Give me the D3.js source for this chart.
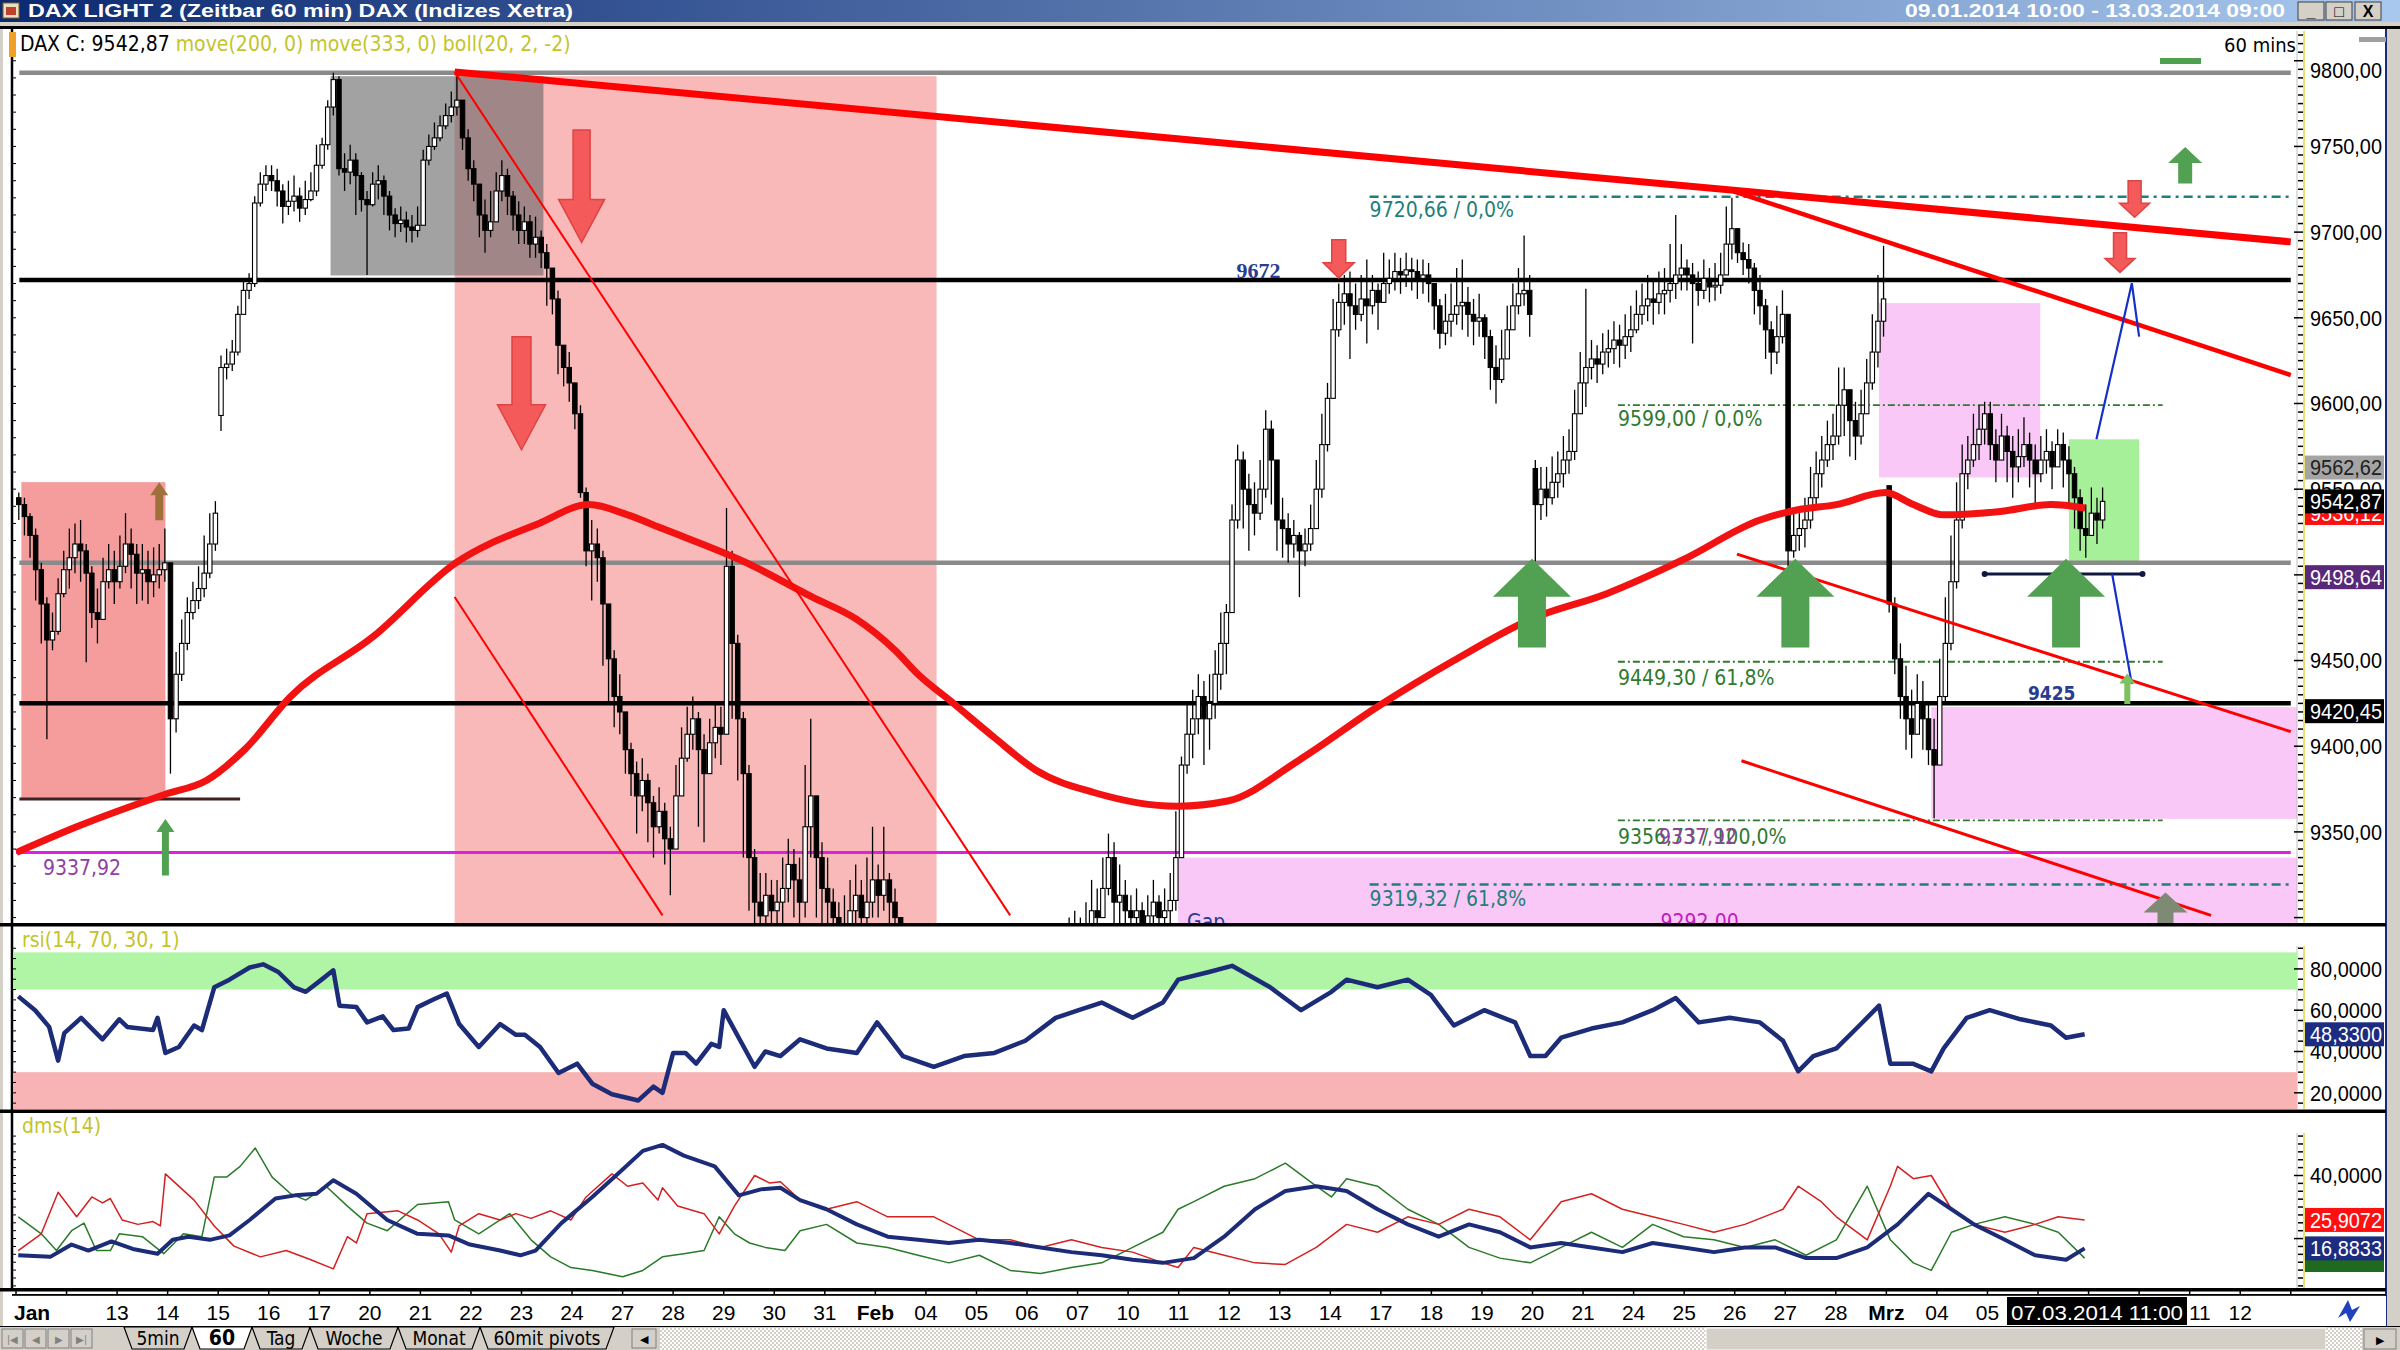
<!DOCTYPE html>
<html><head><meta charset="utf-8">
<script src="https://cdn.jsdelivr.net/npm/d3@7"></script>
<style>
html,body{margin:0;padding:0;background:#d4d0c8;overflow:hidden}
svg{display:block}
</style></head><body>
<svg id="c" width="2400" height="1350"></svg>
<script>
// ---------------- DATA ----------------
const dayLabels = ["Jan","10","13","14","15","16","17","20","21","22","23","24","27","28","29","30","31",
 "Feb","04","05","06","07","10","11","12","13","14","17","18","19","20","21","24","25","26","27","28",
 "Mrz","04","05","06","07","10","11","12","13"];
const barsPerDay = 9;
const firstOpen = 9545;
const closes = [
 9541,9534,9523,9503,9483,9462,9467,9489,9503,
 9510,9518,9514,9501,9478,9474,9496,9503,9496,
 9505,9518,9512,9501,9503,9496,9500,9503,9507,
 9416,9442,9460,9478,9485,9492,9501,9518,9536,
 9621,9623,9630,9652,9666,9670,9717,9728,9733,
 9730,9724,9715,9718,9721,9714,9719,9724,9739,
 9751,9773,9789,9737,9735,9742,9733,9719,9716,
 9728,9730,9721,9710,9705,9707,9703,9701,9704,
 9742,9750,9755,9762,9768,9773,9777,9755,9737,
 9728,9710,9701,9706,9724,9733,9721,9710,9701,
 9706,9693,9697,9688,9679,9661,9634,9621,9612,
 9594,9548,9514,9518,9510,9483,9451,9429,9420,
 9398,9384,9371,9380,9367,9353,9362,9346,9340,
 9371,9393,9407,9416,9398,9384,9402,9411,9407,
 9505,9460,9416,9384,9335,9309,9301,9313,9304,
 9309,9317,9331,9322,9309,9353,9371,9335,9317,
 9309,9300,9291,9295,9304,9313,9300,9309,9322,
 9313,9322,9309,9300,9282,9264,9246,9219,9201,
 9192,9175,9166,9157,9175,9183,9170,9179,9183,
 9192,9210,9219,9206,9197,9210,9219,9228,9224,
 9237,9246,9255,9264,9273,9264,9277,9286,9291,
 9286,9295,9304,9300,9317,9335,9309,9313,9304,
 9300,9304,9295,9301,9309,9300,9304,9310,9335,
 9389,9407,9416,9429,9416,9425,9442,9460,9478,
 9532,9567,9550,9541,9536,9550,9585,9567,9532,
 9527,9518,9523,9514,9518,9527,9550,9576,9603,
 9643,9659,9664,9657,9652,9661,9657,9666,9659,
 9670,9673,9677,9675,9678,9677,9673,9675,9670,
 9657,9641,9648,9652,9657,9659,9652,9648,9650,
 9639,9621,9614,9626,9643,9657,9664,9666,9652,
 9541,9550,9545,9554,9559,9567,9572,9594,9612,
 9621,9626,9623,9630,9632,9637,9634,9639,9643,
 9652,9657,9661,9659,9664,9666,9670,9675,9679,
 9675,9670,9666,9673,9668,9669,9675,9693,9702,
 9688,9684,9679,9666,9657,9643,9630,9639,9652,
 9514,9523,9527,9532,9545,9559,9567,9576,9581,
 9599,9608,9590,9581,9594,9612,9630,9648,9661,
 9483,9451,9429,9416,9407,9425,9416,9398,9389,
 9429,9460,9496,9532,9559,9567,9576,9585,9594,
 9576,9567,9581,9572,9563,9569,9576,9567,9559,
 9567,9572,9563,9576,9567,9559,9545,9527,9523,
 9536,9532,9542.87];
const highs = [
 9548,9545,9536,9527,9507,9487,9478,9498,9514,
 9527,9530,9532,9518,9505,9492,9510,9518,9514,
 9523,9536,9527,9518,9518,9514,9516,9518,9527,
 9438,9455,9474,9487,9496,9505,9523,9536,9543,
 9628,9632,9637,9657,9673,9676,9721,9735,9739,
 9739,9737,9728,9730,9733,9726,9730,9735,9751,
 9755,9777,9793,9791,9746,9751,9746,9735,9724,
 9735,9739,9733,9724,9714,9715,9712,9710,9715,
 9748,9757,9764,9768,9775,9782,9791,9773,9760,
 9742,9728,9719,9724,9735,9742,9737,9724,9718,
 9715,9710,9709,9701,9693,9675,9666,9634,9630,
 9612,9599,9551,9532,9527,9514,9483,9456,9442,
 9416,9402,9391,9393,9384,9371,9376,9367,9353,
 9389,9411,9423,9429,9420,9407,9416,9425,9423,
 9539,9514,9465,9420,9389,9340,9326,9326,9322,
 9322,9335,9346,9340,9335,9389,9416,9362,9344,
 9335,9317,9309,9313,9322,9331,9322,9335,9353,
 9331,9353,9326,9317,9300,9282,9264,9242,9219,
 9210,9197,9183,9175,9188,9197,9188,9192,9197,
 9206,9224,9233,9219,9210,9224,9233,9242,9237,
 9250,9259,9268,9277,9286,9277,9291,9300,9304,
 9300,9309,9322,9317,9335,9349,9344,9331,9322,
 9313,9317,9309,9313,9322,9313,9317,9326,9362,
 9394,9425,9433,9442,9438,9442,9456,9478,9483,
 9541,9576,9572,9559,9554,9567,9596,9590,9550,
 9545,9536,9532,9525,9527,9541,9567,9594,9612,
 9661,9670,9675,9677,9670,9675,9684,9675,9670,
 9688,9684,9688,9685,9688,9685,9684,9684,9682,
 9670,9661,9664,9670,9679,9684,9668,9661,9664,
 9652,9643,9634,9643,9657,9670,9679,9698,9675,
 9567,9563,9563,9569,9572,9581,9585,9608,9630,
 9667,9637,9634,9641,9643,9648,9646,9652,9657,
 9666,9670,9675,9673,9677,9679,9693,9710,9693,
 9684,9682,9677,9684,9679,9682,9688,9715,9720,
 9702,9694,9693,9682,9675,9661,9648,9657,9666,
 9651,9536,9536,9545,9563,9572,9581,9590,9594,
 9621,9621,9605,9601,9608,9626,9652,9675,9692,
 9550,9487,9460,9447,9433,9442,9438,9425,9416,
 9451,9487,9523,9554,9576,9581,9594,9599,9601,
 9601,9585,9594,9587,9581,9585,9592,9583,9576,
 9581,9585,9578,9585,9583,9575,9563,9550,9541,
 9551,9545,9551];
const lows = [
 9532,9523,9510,9485,9460,9404,9456,9465,9487,
 9492,9501,9496,9449,9469,9460,9483,9492,9483,
 9492,9501,9492,9483,9485,9483,9487,9492,9496,
 9384,9408,9438,9456,9474,9480,9487,9498,9514,
 9584,9614,9619,9628,9657,9661,9668,9715,9724,
 9724,9715,9705,9710,9712,9706,9710,9718,9721,
 9737,9748,9768,9733,9724,9728,9710,9712,9675,
 9715,9719,9710,9701,9697,9700,9694,9694,9697,
 9728,9739,9748,9753,9760,9764,9768,9748,9730,
 9718,9697,9688,9697,9710,9718,9710,9701,9693,
 9693,9685,9685,9679,9657,9652,9617,9610,9601,
 9585,9545,9505,9485,9496,9447,9425,9411,9407,
 9384,9371,9349,9362,9344,9335,9349,9331,9313,
 9358,9376,9391,9398,9353,9344,9384,9393,9389,
 9407,9416,9380,9335,9304,9282,9282,9295,9286,
 9282,9291,9309,9300,9291,9300,9335,9300,9291,
 9295,9282,9273,9277,9286,9291,9277,9291,9300,
 9300,9304,9291,9277,9259,9242,9219,9197,9183,
 9179,9161,9148,9139,9157,9166,9157,9166,9170,
 9179,9194,9206,9192,9183,9197,9206,9215,9210,
 9219,9233,9242,9250,9259,9255,9264,9273,9277,
 9273,9282,9291,9286,9300,9313,9295,9295,9291,
 9286,9291,9282,9289,9295,9286,9291,9295,9304,
 9335,9384,9393,9407,9389,9398,9416,9433,9442,
 9478,9527,9527,9514,9523,9532,9545,9541,9514,
 9510,9507,9510,9487,9505,9514,9527,9545,9572,
 9612,9639,9646,9626,9643,9648,9635,9652,9643,
 9661,9664,9666,9664,9668,9666,9661,9664,9659,
 9643,9632,9634,9639,9646,9643,9639,9634,9639,
 9626,9608,9600,9612,9626,9643,9652,9657,9639,
 9508,9532,9534,9541,9545,9551,9559,9567,9596,
 9598,9614,9612,9617,9621,9623,9621,9626,9630,
 9641,9646,9648,9646,9652,9652,9659,9661,9666,
 9666,9635,9657,9661,9659,9660,9664,9677,9684,
 9682,9675,9670,9652,9646,9626,9617,9623,9635,
 9505,9510,9514,9516,9527,9541,9551,9563,9567,
 9576,9581,9569,9567,9576,9594,9608,9621,9639,
 9478,9442,9416,9398,9393,9407,9398,9389,9358,
 9416,9425,9456,9492,9527,9550,9563,9567,9576,
 9567,9554,9567,9554,9545,9554,9563,9551,9541,
 9554,9559,9550,9563,9551,9541,9527,9514,9510,
 9523,9518,9527];
const gapOpens = [[36,9593],[270,9562],[333,9552]];

// moving average (red) read at bar positions
const maBar = [0.1,10.8,26.6,33.9,40.7,48.9,63.6,78.3,93.1,102,108.9,115.1,130.1,141.8,149.7,156.5,160.6,166.9,174.2,181.6,191.9,206.7,215.7,228.5,242.4,256,269.6,283.2,296.9,310.5,317.3,324.1,332.8,337.8,343.2,353.3,362.3,368.4];
const maVal = [9338,9353,9372,9380,9398,9429,9464,9507,9530,9541,9535,9527,9507,9487,9474,9456,9442,9425,9405,9386,9373,9365,9368,9392,9423,9450,9474,9489,9509,9532,9538,9541,9548,9541,9535,9537,9541,9539];

// RSI(14)
const rsiBar = [0.4,3.4,5.9,7.5,8.6,11.6,15.4,18.4,19.8,24.4,25.2,26.6,29,31.7,33.1,35.3,38,41.6,44,46.7,49.5,51.6,54.4,56.5,57.6,60.6,62.5,65.3,67.2,69.9,71.5,74.3,76.7,78.9,82.4,86.2,89,90.6,93.3,96.6,99.9,102.6,106.1,110.8,113.5,115.1,117,119.2,121.1,123.8,125.2,126,131.5,133.4,136.1,139.6,144.3,149.7,153.3,157.9,163.4,168.8,174.2,179.7,185.1,189.2,193.3,198.8,204.2,206.9,212.4,216.5,223.3,228.8,234.2,236.9,242.4,247.8,251.9,256,261.4,266.9,269.6,272.3,275.1,280.5,286,291.4,295.5,299.6,305.1,310.5,314.6,317.3,320,324.1,328.2,331.7,333.7,337.7,341,343.2,347.3,351.4,356.9,362.3,365,368.3];
const rsiVal = [66.7,60,51.9,35.6,48.9,56.3,45.9,55.6,51.9,50.4,56.3,39.3,42.2,52.6,50.4,71.1,74.8,80.7,82.2,78.5,71.1,68.9,74.8,79.3,62.2,61.5,54.1,57,50.4,51.1,61.5,65.2,68.1,53.3,42.2,53.3,48.1,48.1,42.2,29.6,34.1,24.4,19.3,16.3,23,20,39.3,39.3,34.1,43.7,42.2,60,32.6,40,37.8,45.9,41.5,39.3,54.1,37.8,32.6,37.8,39.3,45.2,56.3,60,63.7,56.3,63.7,74.8,78.5,81.5,71.1,60,68.9,74.8,71.1,74.8,67.4,52.6,60,54.1,37.8,37.8,46.7,51.1,54.1,60,65.9,54.1,56.3,54.1,45.2,30.4,37.8,41.5,52.6,62.2,34.1,34.1,30.4,41.5,56.3,60,55.6,52.6,46.7,48.33];

// DMS(14): ADX (blue), red DI, green DI
const adxBar = [0.4,6.1,9.9,12.9,17,20.8,25.2,27.9,30.7,34.5,38,41.6,46.2,49.7,53.5,56.5,60.6,66.1,71.5,77,80.8,86.2,89.8,92.5,97.1,102.6,108,111.6,115.1,118.9,124.4,128.7,132.6,136.1,139.6,144.3,149.7,155.2,160.6,166.1,171.5,177,182.4,187.9,193.3,198.8,204.2,209.7,215.1,220.6,226,231.5,236.9,242.4,247.8,253.3,258.7,264.2,269.6,275.1,280.5,286,291.4,296.9,302.3,307.8,313.2,318.7,324.1,329.6,335,340.5,344.6,348.6,354.1,359.5,365,368.3];
const adxVal = [14.7,14.2,18.1,16.2,19.1,16.7,15.2,19.6,20.6,19.6,21,25.9,32.7,33.7,34.2,38.5,34.2,25.9,21.5,21,18.1,16.2,14.7,16.2,24.9,33.2,41.9,47.8,49.7,46.3,42.9,33.7,35.6,36.1,32.2,29.3,24.5,20.6,19.6,18.6,19.6,18.6,17.2,15.7,14.7,13.3,12.3,13.8,20.6,29.3,35.1,36.6,35.1,29.3,24.5,20.6,24.5,22,17.2,18.6,17.2,15.7,18.6,17.2,15.7,17.2,17.2,13.8,13.8,17.2,24.5,34.2,29.3,24.5,19.6,14.7,13.3,16.8833];
const redBar = [0.4,4.5,7.5,10.8,13.5,15.4,16.8,18.9,21.7,24.4,25.7,26.6,31.7,35.3,38.8,43.5,48.1,52.5,56.5,59,60.6,62.5,68,71.5,75.3,77.5,78.9,82.4,86.2,89,91.7,95.2,98.8,101.5,106.1,108.9,111.6,114.3,115.1,117.8,122.5,125.2,127.9,131.5,134.2,136.1,139.6,144.3,149.7,155.2,163.4,171.5,177,182.4,187.9,193.3,198.8,204.2,206.9,209.7,215.1,220.6,226,231.5,236.9,242.4,247.8,253.3,258.7,264.2,269.6,275.1,280.5,286,291.4,296.9,302.3,307.8,314.6,317.3,321.4,324.1,329.6,333.7,335,337.8,341,344.6,348.6,354.1,359.5,363.6,368.3];
const redVal = [16.2,21.5,34.7,26.9,33.2,31.3,32.7,25.9,24.5,25.4,24,40.5,32.2,24,17.6,14.2,16.2,13.3,10.4,20.6,18.6,27.9,28.8,25.9,21.5,15.7,24,27.9,25.9,27.9,26.4,28.8,25.9,33.2,40.5,36.6,37.6,32.2,36.1,30.3,27.9,21.5,30.3,40,37.6,38,32.2,29.3,31.7,26.9,26.9,19.6,19.6,17.2,19.6,17.2,15.7,12.3,10.8,17.2,14.7,12.3,11.8,17.2,24.5,22,26.9,24.5,29.3,26.9,19.6,31.7,34.2,29.3,26.9,24.5,22,24.5,29.3,36.6,31.7,26.9,19.6,36.6,42.9,39,40,29.3,24.5,22,24.5,26.9,25.9072];
const grnBar = [0.4,4.5,7.2,9.9,12.1,14.3,16.8,18.4,22.5,26.3,29.8,33.1,35.3,37.5,39.9,42.6,45.6,48.9,51.6,55.2,59,62.5,66.1,71.5,77,78.1,82.4,87.9,91.7,95.2,98.8,102.6,108,111.6,115.1,118.9,122.5,125.2,127.9,130.6,133.4,136.9,139.6,144.3,149.7,155.2,160.6,166.1,171.5,177,182.4,187.9,193.3,198.8,204.2,206.9,209.7,215.1,220.6,226,231.5,234.2,236.9,242.4,247.8,253.3,258.7,264.2,269.6,275.1,280.5,286,291.4,296.9,302.3,307.8,313.2,318.7,324.1,329.6,333.7,337.8,341,344.6,348.6,354.1,359.5,363.6,368.3];
const grnVal = [26.9,21.5,16.2,22.5,24.9,16.2,16.2,21.5,20.6,15.2,21.5,20.6,39.5,39.5,42.9,48.7,39.5,34.2,32.2,36.6,30.3,24.9,22.5,30.8,31.7,25.9,21.5,27.9,19.6,14.2,10.8,9.9,7.9,9.9,14.2,15.2,16.2,26.9,21.5,18.6,17.2,16.2,22.5,24.5,18.6,17.2,14.7,12.3,14.7,9.9,8.9,10.8,12.3,17.2,22,29.3,31.7,36.6,39,43.9,36.6,33.2,39,36.6,29.3,24.5,17.2,13.8,12.3,17.2,22,17.2,24.5,20.6,19.6,17.2,19.6,14.7,19.6,36.6,19.6,12.3,9.9,22,24.5,26.9,24.5,22,13.8];

// horizontal levels and fibonacci levels
const supportLevels = [9793, 9672, 9507, 9425];
const fibTeal = [9720.66, 9319.32];
const fibGreen = [9599.00, 9449.30, 9356.73];
const priceTicks = [9350,9400,9450,9550,9600,9650,9700,9750,9800];
const rsiTicks = [20,40,60,80];
const dmsTicks = [40];

// ---------------- LAYOUT ----------------
const svg = d3.select("#c");
const FN = "'Liberation Sans Narrow','Arial Narrow','DejaVu Sans Condensed',sans-serif";
const FR = "'Liberation Sans',Arial,sans-serif";
const PL = 12, PR = 2297;
const MT = 29, MB = 923, RT = 926, RB = 1109, DT = 1113, DB = 1288;
const xS = d3.scaleLinear().domain([0, 405]).range([16, 16 + 405 * 5.6167]);
const yP = d3.scaleLinear().domain([9672, 9337.92]).range([280.1, 852.6]);
const yR = d3.scaleLinear().domain([80, 20]).range([968.9, 1092.8]);
const yD = d3.scaleLinear().domain([40, 16.8833]).range([1175.5, 1248.4]);
const fmt = v => d3.format(".2f")(v).replace(".", ",");
const fmt4 = v => d3.format(".4f")(v).replace(".", ",");

const defs = svg.append("defs");
const lg = defs.append("linearGradient").attr("id", "tb").attr("x1", 0).attr("x2", 1);
lg.append("stop").attr("offset", 0).attr("stop-color", "#0c2a72");
lg.append("stop").attr("offset", 1).attr("stop-color", "#a8c8ee");
defs.append("clipPath").attr("id", "cm").append("rect").attr("x", PL + 1).attr("y", MT + 1).attr("width", PR - PL - 1).attr("height", MB - MT - 1);
defs.append("clipPath").attr("id", "cr").append("rect").attr("x", PL + 1).attr("y", RT).attr("width", PR - PL - 1).attr("height", RB - RT);
defs.append("clipPath").attr("id", "cd").append("rect").attr("x", PL + 1).attr("y", DT).attr("width", PR - PL - 1).attr("height", DB - DT);
const pat = defs.append("pattern").attr("id", "dots").attr("width", 4).attr("height", 4).attr("patternUnits", "userSpaceOnUse");
pat.append("rect").attr("width", 4).attr("height", 4).attr("fill", "#d4d0c8");
pat.append("rect").attr("width", 2).attr("height", 2).attr("fill", "#ffffff");
pat.append("rect").attr("x", 2).attr("y", 2).attr("width", 2).attr("height", 2).attr("fill", "#ffffff");

// background
svg.append("rect").attr("width", 2400).attr("height", 1350).attr("fill", "#d4d0c8");
// title bar
svg.append("rect").attr("x", 0).attr("y", 0).attr("width", 2400).attr("height", 22).attr("fill", "url(#tb)");
svg.append("rect").attr("x", 3).attr("y", 3).attr("width", 16).attr("height", 15).attr("fill", "#e8e0c0").attr("stroke", "#806020");
svg.append("rect").attr("x", 6).attr("y", 7).attr("width", 10).attr("height", 8).attr("fill", "#c04030");
svg.append("text").attr("x", 28).attr("y", 17).attr("fill", "#fff").attr("font-family", FR).attr("font-weight", "bold")
  .attr("font-size", 18).attr("textLength", 545).attr("lengthAdjust", "spacingAndGlyphs")
  .text("DAX LIGHT 2 (Zeitbar 60 min)  DAX (Indizes Xetra)");
svg.append("text").attr("x", 2285).attr("y", 17).attr("text-anchor", "end").attr("fill", "#fff").attr("font-family", FR).attr("font-weight", "bold")
  .attr("font-size", 18).attr("textLength", 380).attr("lengthAdjust", "spacingAndGlyphs")
  .text("09.01.2014 10:00 - 13.03.2014 09:00");
[[2298, "_"], [2326, "□"], [2355, "X"]].forEach(([x, s]) => {
  svg.append("rect").attr("x", x).attr("y", 2).attr("width", 26).attr("height", 18).attr("fill", "#d4d0c8").attr("stroke", "#404040");
  svg.append("text").attr("x", x + 13).attr("y", 17).attr("text-anchor", "middle").attr("font-family", FR).attr("font-weight", "bold").attr("font-size", 16).text(s);
});
svg.append("rect").attr("x", 0).attr("y", 26).attr("width", 2400).attr("height", 3).attr("fill", "#000");

// white chart area
svg.append("rect").attr("x", 3).attr("y", 29).attr("width", 2383).attr("height", 1297).attr("fill", "#fff");
svg.append("rect").attr("x", 2386).attr("y", 29).attr("width", 14).attr("height", 1297).attr("fill", "#d4d0c8");
svg.append("line").attr("x1", 2386).attr("x2", 2386).attr("y1", 29).attr("y2", 1326).attr("stroke", "#1a2a80").attr("stroke-width", 2);

// ---------------- MAIN PANEL ----------------
const gm = svg.append("g").attr("clip-path", "url(#cm)");
const zone = (b0, b1, p0, p1, fill, op) => gm.append("rect")
  .attr("x", xS(b0)).attr("width", xS(b1) - xS(b0))
  .attr("y", yP(p0)).attr("height", yP(p1) - yP(p0)).attr("fill", fill).attr("opacity", op || 1);
zone(0.95, 26.6, 9554.1, 9369.2, "#f59c9c");
zone(78.1, 163.9, 9791, 9200, "#f9b9b9");
zone(56, 93.9, 9791, 9674.7, "#646464", 0.6);
zone(331.7, 360.4, 9658.6, 9556.8, "#f9c8f7");
zone(341, 406.5, 9422.8, 9357.6, "#f9c8f7");
zone(206.9, 406.5, 9335, 9200, "#f9c8f7");
zone(365.5, 378, 9579.1, 9507.6, "#a6f09a");

const hline = (p, b0, b1, col, w) => gm.append("line").attr("x1", xS(b0)).attr("x2", xS(b1))
  .attr("y1", yP(p)).attr("y2", yP(p)).attr("stroke", col).attr("stroke-width", w);
hline(supportLevels[0], 0.6, 405, "#8a8a8a", 4.5);
hline(supportLevels[2], 0.6, 405, "#8a8a8a", 4.5);
hline(supportLevels[1], 0.6, 405, "#000", 4.5);
hline(supportLevels[3], 0.6, 405, "#000", 4.5);
hline(9337.92, 0, 405, "#e020e0", 3);
hline(9369.2, 0.6, 39.9, "#402020", 3);

fibTeal.forEach(p => gm.append("line").attr("x1", xS(241)).attr("x2", xS(405)).attr("y1", yP(p)).attr("y2", yP(p))
  .attr("stroke", "#1f7f7a").attr("stroke-width", 2.5).attr("stroke-dasharray", "9,5,3,5"));
fibGreen.forEach(p => gm.append("line").attr("x1", xS(285.2)).attr("x2", xS(382.2)).attr("y1", yP(p)).attr("y2", yP(p))
  .attr("stroke", "#2f7a2f").attr("stroke-width", 1.8).attr("stroke-dasharray", "7,3,2,3"));

// candles
const candles = closes.map((c, i) => {
  let o = i === 0 ? firstOpen : closes[i - 1];
  const g = gapOpens.find(d => d[0] === i);
  if (g) o = g[1];
  return {i, o, c, h: Math.max(highs[i], o, c), l: Math.min(lows[i], o, c)};
});
const cg = gm.append("g");
cg.selectAll("line.w").data(candles).join("line")
  .attr("x1", d => xS(d.i + 0.5)).attr("x2", d => xS(d.i + 0.5))
  .attr("y1", d => yP(d.h)).attr("y2", d => yP(d.l)).attr("stroke", "#000").attr("stroke-width", 1.3);
cg.selectAll("rect.b").data(candles).join("rect")
  .attr("x", d => xS(d.i + 0.5) - 2.2).attr("width", 4.4)
  .attr("y", d => yP(Math.max(d.o, d.c))).attr("height", d => Math.max(1.2, Math.abs(yP(d.o) - yP(d.c))))
  .attr("fill", d => d.c >= d.o ? "#fff" : "#000").attr("stroke", "#000").attr("stroke-width", 1.1);

gm.append("path").datum(maBar.map((b, k) => [b, maVal[k]]))
  .attr("d", d3.line().x(d => xS(d[0])).y(d => yP(d[1])).curve(d3.curveMonotoneX))
  .attr("fill", "none").attr("stroke", "#f21212").attr("stroke-width", 7);

const trendLines = [
  [78.1, 9793.5, 405, 9694.3, 7],
  [78.1, 9793.5, 177, 9301.3, 2],
  [78.1, 9487.1, 115.1, 9301.3, 2],
  [305.8, 9723.8, 405, 9616.6, 4.5],
  [306.4, 9512.1, 405, 9408.5, 3],
  [307.2, 9391.5, 390.8, 9301.3, 3]];
trendLines.forEach(t => gm.append("line").attr("x1", xS(t[0])).attr("y1", yP(t[1])).attr("x2", xS(t[2])).attr("y2", yP(t[3]))
  .attr("stroke", "#ff0000").attr("stroke-width", t[4]));

gm.append("line").attr("x1", xS(350.5)).attr("x2", xS(378.6)).attr("y1", yP(9500.5)).attr("y2", yP(9500.5))
  .attr("stroke", "#101840").attr("stroke-width", 3);
[350.5, 378.6].forEach(b => gm.append("circle").attr("cx", xS(b)).attr("cy", yP(9500.5)).attr("r", 3).attr("fill", "#101840"));
const proj = [[370.4, 9579.1], [376.7, 9670.2], [378.0, 9639]];
gm.append("path").datum(proj).attr("d", d3.line().x(d => xS(d[0])).y(d => yP(d[1])))
  .attr("fill", "none").attr("stroke", "#1530c8").attr("stroke-width", 2.2);
gm.append("line").attr("x1", xS(373.2)).attr("y1", yP(9500.5)).attr("x2", xS(376.7)).attr("y2", yP(9436.2))
  .attr("stroke", "#1530c8").attr("stroke-width", 2.2);

function upArrow(b, tip, tail, hw, hh, sw, fill) {
  const cx = xS(b), yt = yP(tip), yb = yP(tail);
  const pts = [[cx, yt], [cx + hw / 2, yt + hh], [cx + sw / 2, yt + hh], [cx + sw / 2, yb], [cx - sw / 2, yb], [cx - sw / 2, yt + hh], [cx - hw / 2, yt + hh]];
  gm.append("polygon").attr("points", pts.map(p => p.join(",")).join(" ")).attr("fill", fill);
}
function downArrow(b, tail, tip, hw, hh, sw, fill, stroke) {
  const cx = xS(b), yt = yP(tail), yb = yP(tip);
  const pts = [[cx - sw / 2, yt], [cx + sw / 2, yt], [cx + sw / 2, yb - hh], [cx + hw / 2, yb - hh], [cx, yb], [cx - hw / 2, yb - hh], [cx - sw / 2, yb - hh]];
  gm.append("polygon").attr("points", pts.map(p => p.join(",")).join(" ")).attr("fill", fill).attr("stroke", stroke).attr("stroke-width", 1.5);
}
const greenBig = [269.9, 316.8, 365];
greenBig.forEach(b => upArrow(b, 9509.4, 9457.6, 78, 38, 28, "#52a052"));
upArrow(26.6, 9357.6, 9324.6, 18, 13, 7, "#52a052");
upArrow(25.5, 9554, 9531.8, 18, 13, 8, "#a0703a");
upArrow(386.2, 9749.7, 9728.3, 34, 16, 14, "#52a052");
upArrow(382.7, 9314.7, 9296.8, 44, 20, 16, "#7f8a74");
upArrow(375.9, 9442.4, 9424.6, 16, 10, 6, "#7cc060");
downArrow(100.7, 9759.6, 9694, 46, 43, 17, "#f55a5a", "#d44");
downArrow(90, 9639, 9573, 48, 45, 19, "#f55a5a", "#d44");
downArrow(235.5, 9695.6, 9673.3, 31, 15, 14, "#f55a5a", "#d44");
downArrow(377.2, 9730, 9708.7, 30, 14, 13, "#f55a5a", "#d44");
downArrow(374.6, 9699.7, 9676.5, 30, 14, 13, "#f55a5a", "#d44");

const lab = (t, b, p, col, opts) => {
  const o = Object.assign({size: 21, font: FN, weight: "normal"}, opts || {});
  return gm.append("text").attr("x", xS(b)).attr("y", yP(p)).attr("dy", "0.35em").attr("fill", col)
    .attr("font-family", o.font).attr("font-size", o.size).attr("font-weight", o.weight).text(t);
};
lab("9672", 217.3, 9678, "#283c90", {font: "'Liberation Serif',serif", weight: "bold", size: 22});
lab("9720,66 / 0,0%", 241, 9713, "#1f7f7a");
lab("9599,00 / 0,0%", 285.2, 9591, "#2f7a2f");
lab("9449,30 / 61,8%", 285.2, 9440, "#2f7a2f");
lab("9356,73 / 100,0%", 285.2, 9347, "#2f7a2f");
lab("9337,92", 292.5, 9347, "#9040a0");
lab("9337,92", 4.8, 9329, "#9040a0");
lab("9319,32 / 61,8%", 241, 9311, "#1f7f7a");
lab("9292,00", 292.8, 9297.5, "#c020c0");
lab("Gap", 208.5, 9297.5, "#283c90");
lab("9425", 358.2, 9431, "#283c90", {weight: "bold", size: 19});

svg.append("line").attr("x1", PL).attr("x2", PL).attr("y1", MT).attr("y2", 1290).attr("stroke", "#000").attr("stroke-width", 2.5);
d3.range(9300, 9820, 10).forEach(v => svg.append("line").attr("x1", PL).attr("x2", PL + 4).attr("y1", yP(v)).attr("y2", yP(v)).attr("stroke", "#000"));

svg.append("rect").attr("x", 9).attr("y", 32).attr("width", 7).attr("height", 25).attr("fill", "#f0a028");
const leg = svg.append("text").attr("x", 20).attr("y", 51).attr("font-family", FN).attr("font-size", 21);
leg.append("tspan").attr("fill", "#000").text("DAX C: 9542,87 ");
leg.append("tspan").attr("fill", "#c4c42a").text("move(200, 0) move(333, 0) boll(20, 2, -2)");
svg.append("text").attr("x", 2296).attr("y", 52).attr("text-anchor", "end").attr("font-family", FN).attr("font-size", 20).text("60 mins");
svg.append("rect").attr("x", 2160).attr("y", 58).attr("width", 41).attr("height", 6).attr("fill", "#4fa04f");
svg.append("rect").attr("x", 2359).attr("y", 37).attr("width", 27).attr("height", 5).attr("fill", "#a0a0a0");

// ---------------- RIGHT AXES ----------------
function axisFrame(y0, y1) {
  svg.append("line").attr("x1", 2304).attr("x2", 2304).attr("y1", y0).attr("y2", y1).attr("stroke", "#e8e070").attr("stroke-width", 2);
  svg.append("line").attr("x1", PR).attr("x2", PR).attr("y1", y0).attr("y2", y1).attr("stroke", "#c0c0c0").attr("stroke-width", 1);
}
axisFrame(MT + 2, MB);
axisFrame(RT + 20, RB);
axisFrame(DT + 20, DB);
d3.range(9300, 9816, 5).forEach(v => {
  const major = v % 50 === 0;
  svg.append("line").attr("x1", major ? 2294 : 2298).attr("x2", 2303).attr("y1", yP(v)).attr("y2", yP(v)).attr("stroke", "#000").attr("stroke-width", 1.5);
});
const axText = (y, t, col) => svg.append("text").attr("x", 2310).attr("y", y).attr("dy", "0.36em").attr("font-family", FR).attr("font-size", 22)
  .attr("textLength", 72).attr("lengthAdjust", "spacingAndGlyphs").attr("fill", col || "#000").text(t);
priceTicks.forEach(v => axText(Math.max(yP(v), 70), fmt(v)));
const valBox = (y, t, bg, fg) => {
  svg.append("rect").attr("x", 2305).attr("y", y - 12).attr("width", 79).attr("height", 24).attr("fill", bg);
  axText(y, t, fg);
};
valBox(yP(9562.62), "9562,62", "#a4a4a4", "#202020");
valBox(yP(9536.12), "9536,12", "#ff1010", "#fff");
valBox(yP(9542.87), "9542,87", "#000", "#fff");
valBox(yP(9498.64), "9498,64", "#5a2878", "#fff");
valBox(yP(9420.45), "9420,45", "#000", "#fff");

// ---------------- RSI PANEL ----------------
svg.append("rect").attr("x", 0).attr("y", 923).attr("width", 2386).attr("height", 3.5).attr("fill", "#000");
const gr = svg.append("g").attr("clip-path", "url(#cr)");
gr.append("rect").attr("x", PL).attr("width", PR - PL).attr("y", yR(88)).attr("height", yR(70) - yR(88)).attr("fill", "#aff5a5");
gr.append("rect").attr("x", PL).attr("width", PR - PL).attr("y", yR(30)).attr("height", RB - yR(30)).attr("fill", "#f8b4b4");
gr.append("path").datum(rsiBar.map((b, k) => [b, rsiVal[k]]))
  .attr("d", d3.line().x(d => xS(d[0])).y(d => yR(d[1])))
  .attr("fill", "none").attr("stroke", "#1c2c78").attr("stroke-width", 4.5).attr("stroke-linejoin", "round");
svg.append("text").attr("x", 22).attr("y", 947).attr("font-family", FN).attr("font-size", 21).attr("fill", "#c4c42a").text("rsi(14, 70, 30, 1)");
d3.range(15, 100, 5).forEach(v => { if (yR(v) > RT + 18 && yR(v) < RB) {
  svg.append("line").attr("x1", v % 20 === 0 ? 2294 : 2298).attr("x2", 2303).attr("y1", yR(v)).attr("y2", yR(v)).attr("stroke", "#000").attr("stroke-width", 1.5);
  svg.append("line").attr("x1", PL).attr("x2", PL + 4).attr("y1", yR(v)).attr("y2", yR(v)).attr("stroke", "#000"); }});
rsiTicks.forEach(v => axText(yR(v), fmt4(v)));
valBox(yR(48.33), "48,3300", "#1c2c80", "#fff");

// ---------------- DMS PANEL ----------------
svg.append("rect").attr("x", 0).attr("y", 1109.5).attr("width", 2386).attr("height", 3.5).attr("fill", "#000");
const gd = svg.append("g").attr("clip-path", "url(#cd)");
const dLine = (bars, vals, col, w) => gd.append("path").datum(bars.map((b, k) => [b, vals[k]]))
  .attr("d", d3.line().x(d => xS(d[0])).y(d => yD(d[1])))
  .attr("fill", "none").attr("stroke", col).attr("stroke-width", w).attr("stroke-linejoin", "round");
dLine(grnBar, grnVal, "#2a7a2a", 1.5);
dLine(redBar, redVal, "#d42020", 1.5);
dLine(adxBar, adxVal, "#1c2c78", 4);
svg.append("text").attr("x", 22).attr("y", 1133).attr("font-family", FN).attr("font-size", 21).attr("fill", "#c4c42a").text("dms(14)");
d3.range(5, 60, 2.5).forEach(v => { if (yD(v) > DT + 18 && yD(v) < DB) {
  svg.append("line").attr("x1", v % 20 === 0 ? 2294 : 2298).attr("x2", 2303).attr("y1", yD(v)).attr("y2", yD(v)).attr("stroke", "#000").attr("stroke-width", 1.5);
  svg.append("line").attr("x1", PL).attr("x2", PL + 4).attr("y1", yD(v)).attr("y2", yD(v)).attr("stroke", "#000"); }});
dmsTicks.forEach(v => axText(yD(v), fmt4(v)));
svg.append("rect").attr("x", 2305).attr("y", yD(13.2) - 12).attr("width", 79).attr("height", 24).attr("fill", "#1f6a1f");
valBox(yD(25.9072), "25,9072", "#ff1010", "#fff");
valBox(yD(16.8833), "16,8833", "#1c2c80", "#fff");

// ---------------- TIME AXIS ----------------
svg.append("rect").attr("x", 0).attr("y", 1288).attr("width", 2386).attr("height", 3.5).attr("fill", "#000");
svg.append("rect").attr("x", 12).attr("y", 1294).attr("width", 2374).attr("height", 1.8).attr("fill", "#000");
const days = d3.range(dayLabels.length);
days.forEach(d => svg.append("line").attr("x1", xS(d * barsPerDay)).attr("x2", xS(d * barsPerDay))
  .attr("y1", 1290).attr("y2", 1295).attr("stroke", "#000").attr("stroke-width", 1.5));
const cursorX0 = 2007, cursorX1 = 2187;
days.forEach(d => {
  if (d === 1 || d === dayLabels.length - 1) return;
  const t = dayLabels[d];
  const bold = isNaN(+t);
  let x = d === 0 ? 14 : xS(d * barsPerDay), anchor = d === 0 ? "start" : "middle";
  if (x > cursorX0 - 12 && x < cursorX1 + 12 && d > 39) {
    if (x < cursorX1 - 5) return;          // fully hidden behind cursor box
    x = cursorX1 + 2; anchor = "start";   // partially visible label
  }
  svg.append("text").attr("x", x).attr("y", 1320)
    .attr("text-anchor", anchor).attr("font-family", FR).attr("font-size", 21)
    .attr("font-weight", bold ? "bold" : "normal").attr("fill", "#000").text(t);
});
svg.append("rect").attr("x", cursorX0).attr("y", 1297).attr("width", cursorX1 - cursorX0).attr("height", 28).attr("fill", "#000");
svg.append("text").attr("x", (cursorX0 + cursorX1) / 2).attr("y", 1320).attr("text-anchor", "middle").attr("font-family", FR).attr("font-size", 21)
  .attr("fill", "#fff").attr("textLength", 172).attr("lengthAdjust", "spacingAndGlyphs").text("07.03.2014 11:00");
svg.append("rect").attr("x", 2298).attr("y", 1296).attr("width", 88).attr("height", 30).attr("fill", "#fff");
svg.append("polygon").attr("points", "2338,1318 2348,1300 2352,1310 2360,1306 2350,1322 2346,1313").attr("fill", "#2040c0");

// ---------------- TAB BAR ----------------
svg.append("rect").attr("x", 0).attr("y", 1326).attr("width", 2400).attr("height", 24).attr("fill", "#d4d0c8");
svg.append("line").attr("x1", 0).attr("x2", 2400).attr("y1", 1326.5).attr("y2", 1326.5).attr("stroke", "#000");
const navSyms = ["|◀", "◀", "▶", "▶|"];
navSyms.forEach((s, k) => {
  const x = 2 + k * 23;
  svg.append("rect").attr("x", x).attr("y", 1329).attr("width", 21).attr("height", 19).attr("fill", "#d4d0c8").attr("stroke", "#808080");
  svg.append("text").attr("x", x + 10.5).attr("y", 1343).attr("text-anchor", "middle").attr("font-size", 10).attr("fill", "#808080").attr("font-family", FR).text(s);
});
const tabs = [["5min", 124, 192], ["60", 192, 252], ["Tag", 252, 310], ["Woche", 310, 398], ["Monat", 398, 480], ["60mit pivots", 480, 614]];
tabs.forEach(([t, x0, x1]) => {
  const sel = t === "60";
  svg.append("polygon").attr("points", `${x0},1327 ${x1},1327 ${x1 - 8},1349 ${x0 + 8},1349`)
    .attr("fill", sel ? "#fff" : "#d4d0c8").attr("stroke", "#000").attr("stroke-width", 1.2);
  svg.append("text").attr("x", (x0 + x1) / 2).attr("y", 1345).attr("text-anchor", "middle").attr("font-family", FN)
    .attr("font-size", sel ? 21 : 19).attr("font-weight", sel ? "bold" : "normal").text(t);
});
svg.append("rect").attr("x", 632).attr("y", 1329).attr("width", 24).attr("height", 19).attr("fill", "#d4d0c8").attr("stroke", "#808080");
svg.append("text").attr("x", 644).attr("y", 1343).attr("text-anchor", "middle").attr("font-size", 11).text("◀");
svg.append("rect").attr("x", 660).attr("y", 1328).attr("width", 1046).attr("height", 22).attr("fill", "url(#dots)");
svg.append("rect").attr("x", 1706).attr("y", 1328).attr("width", 620).attr("height", 22).attr("fill", "#d4d0c8").attr("stroke", "#fff");
svg.append("rect").attr("x", 2326).attr("y", 1328).attr("width", 36).attr("height", 22).attr("fill", "url(#dots)");
svg.append("rect").attr("x", 2364).attr("y", 1329).attr("width", 32).attr("height", 20).attr("fill", "#d4d0c8").attr("stroke", "#808080");
svg.append("text").attr("x", 2380).attr("y", 1344).attr("text-anchor", "middle").attr("font-size", 11).text("▶");
</script></body></html>
